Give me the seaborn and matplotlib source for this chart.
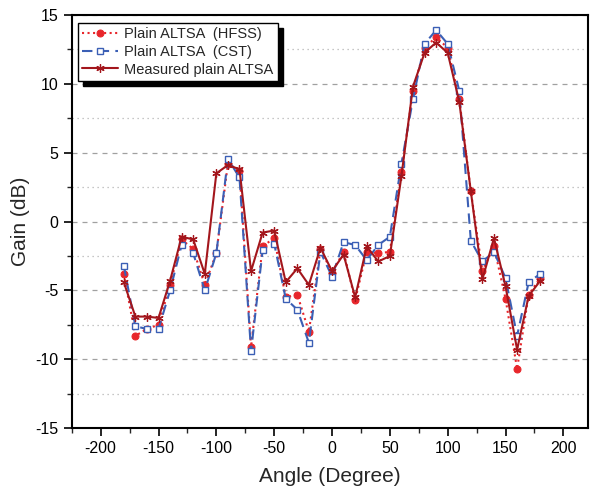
import numpy as np
import pandas as pd
import matplotlib
matplotlib.use("Agg")
import matplotlib.pyplot as plt
from matplotlib.ticker import MultipleLocator
import seaborn as sns

angles = list(range(-180, 181, 10))

hfss = [-3.8, -8.3, -7.8, -7.5, -4.6, -1.3, -2.0, -4.6, -2.3, 4.2,
        3.7, -9.1, -1.8, -1.2, -5.5, -5.3, -8.0, -2.0, -3.7, -2.2,
        -5.7, -2.2, -2.3, -2.2, 3.6, 9.5, 12.6, 13.4, 12.6, 8.9,
        2.2, -3.6, -1.8, -5.6, -10.7, -5.3, -4.1]

cst = [-3.2, -7.6, -7.8, -7.8, -5.0, -1.7, -2.3, -5.0, -2.3, 4.55,
       3.2, -9.4, -2.1, -1.6, -5.6, -6.4, -8.8, -2.2, -4.0, -1.5,
       -1.7, -2.8, -1.7, -1.1, 4.2, 8.9, 12.9, 13.9, 12.9, 9.5,
       -1.4, -2.9, -2.2, -4.1, -8.3, -4.4, -3.8]

measured = [-4.4, -6.9, -6.9, -7.0, -4.3, -1.1, -1.3, -3.8, 3.5, 4.1,
            3.8, -3.6, -0.8, -0.65, -4.4, -3.4, -4.6, -1.9, -3.6, -2.4,
            -5.5, -1.8, -2.9, -2.5, 3.3, 9.8, 12.25, 13.0, 12.25, 8.7,
            2.2, -4.2, -1.2, -4.7, -9.3, -5.4, -4.3]

df = pd.DataFrame({'angle': angles, 'hfss': hfss, 'cst': cst, 'measured': measured})

sns.set_style("ticks")
plt.rcParams['font.family'] = ['Liberation Sans', 'DejaVu Sans']
plt.rcParams['axes.unicode_minus'] = False

fig = plt.figure(figsize=(5.93, 4.99), dpi=100)
ax = fig.add_axes([0.121, 0.142, 0.87, 0.828])

# simulated and measured gain curves
sns.lineplot(data=df, x='angle', y='hfss', ax=ax, color='#e8262b', linestyle=':',
             linewidth=1.5, marker='o', markersize=5, markeredgecolor='#e8262b',
             label='Plain ALTSA  (HFSS)')
sns.lineplot(data=df, x='angle', y='cst', ax=ax, color='#3b5fb5', linestyle=(0, (5, 3)),
             linewidth=1.5, marker='s', markersize=5, markerfacecolor='white',
             markeredgecolor='#3b5fb5', markeredgewidth=1.0,
             label='Plain ALTSA  (CST)')
sns.lineplot(data=df, x='angle', y='measured', ax=ax, color='#a3161c', linestyle='-',
             linewidth=1.5, marker=(6, 2, 0), markersize=6, markeredgecolor='#a3161c',
             markeredgewidth=0.9, label='Measured plain ALTSA')

ax.set_xlim(-225, 221)
ax.set_ylim(-15, 15)
ax.xaxis.set_major_locator(MultipleLocator(50))
ax.xaxis.set_minor_locator(MultipleLocator(25))
ax.yaxis.set_major_locator(MultipleLocator(5))
ax.yaxis.set_minor_locator(MultipleLocator(2.5))

ax.grid(False)
ax.grid(axis='y', which='major', color='#a0a0a0', linestyle=(0, (4, 4)), linewidth=0.9)
ax.grid(axis='y', which='minor', color='#b4b4b4', linestyle=(0, (1, 3)), linewidth=0.9)
ax.set_axisbelow(True)

ax.tick_params(which='major', direction='out', length=6, width=1.2, labelsize=11.5, colors='black')
ax.tick_params(which='minor', direction='out', length=3.5, width=1.0)
for s in ax.spines.values():
    s.set_linewidth(1.5)
    s.set_color('black')

ax.set_xlabel('Angle (Degree)', fontsize=15, labelpad=8)
ax.set_ylabel('Gain (dB)', fontsize=15, labelpad=4)

leg = ax.legend(loc='upper left', bbox_to_anchor=(0.0, 0.995), fontsize=10.5, frameon=True,
                fancybox=False, shadow={'color': 'black', 'alpha': 1, 'ox': 4, 'oy': -4},
                handlelength=2.5, handletextpad=0.4,
                borderpad=0.3, labelspacing=0.25, borderaxespad=0.4)
leg.get_frame().set_edgecolor('black')
leg.get_frame().set_linewidth(1.0)
leg.get_frame().set_alpha(1)

plt.savefig('out.png', dpi=100)
